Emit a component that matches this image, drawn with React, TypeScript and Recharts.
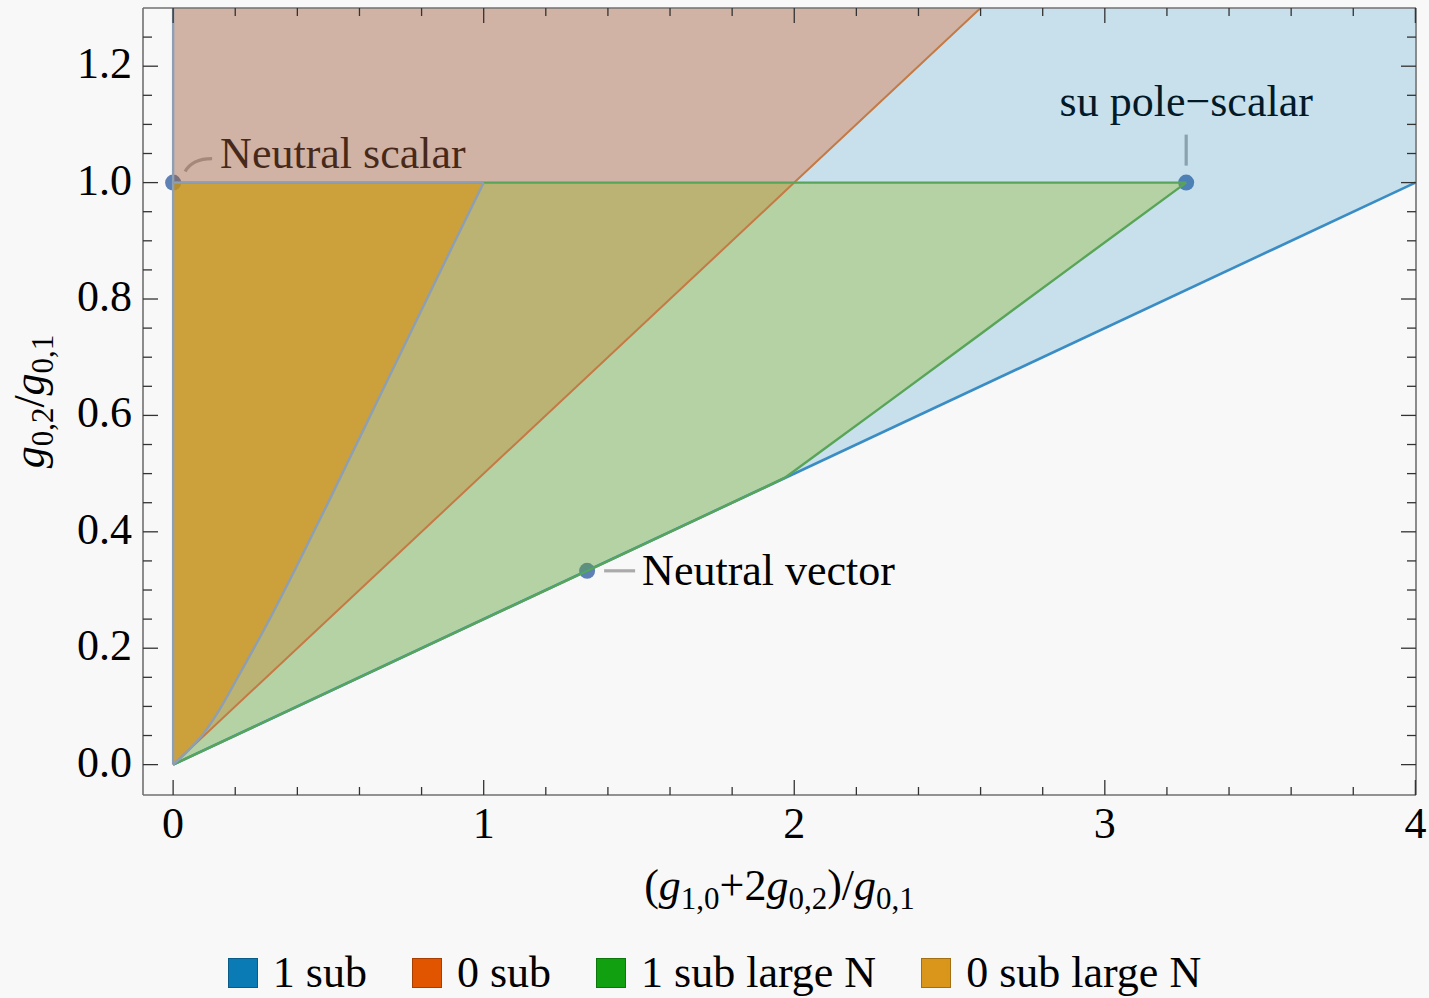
import React from 'react';
import { ComposedChart, Area, XAxis, YAxis, Scatter, Legend } from 'recharts';

const CHART_W = 1429;
const CHART_H = 998;
const FONT = '"Liberation Serif", "Times New Roman", serif';
const BG = '#f8f8f8';
const TICK_COLOR = '#333333';
const FRAME_COLOR = '#707070';

// ---- Region "1 sub" (lower and upper boundary at each vertex x)
const sub1X = [0, 4];
const sub1Low = [0, 1];
const sub1High = [1.3, 1.3];

// ---- Region "0 sub"
const sub0X = [0, 2, 2.6];
const sub0Low = [0, 1, 1.3];
const sub0High = [1.3, 1.3, 1.3];

// ---- Region "1 sub large N"
const sub1NX = [0, 1.333, 1.9, 1.97, 2.083, 2.277, 2.6, 2.92, 3.262];
const sub1NLow = [0, 0.333, 0.475, 0.493, 0.537, 0.613, 0.74, 0.866, 1.0];
const sub1NHigh = [1, 1, 1, 1, 1, 1, 1, 1, 1];

// ---- Region "0 sub large N"
const sub0NX = [0, 0.05, 0.1, 0.15, 0.2, 0.3, 0.4, 0.5, 0.6, 0.7, 0.8, 0.9, 1];
const sub0NLow = [0, 0.025, 0.055, 0.095, 0.142, 0.239, 0.343, 0.451, 0.561, 0.671, 0.781, 0.891, 1];
const sub0NHigh = [1, 1, 1, 1, 1, 1, 1, 1, 1, 1, 1, 1, 1];

// ---- Labelled points
const markerX = [0, 3.262, 1.333];
const markerY = [1, 1, 0.333];
const markerNames = ['Neutral scalar', 'su pole\u2212scalar', 'Neutral vector'];

// ---- Legend
const legendNames = ['1 sub', '0 sub', '1 sub large N', '0 sub large N'];
const legendColors = ['#0b7bb5', '#e15400', '#10a010', '#d9961a'];

// ---- Axes
const xDomain = [-0.097, 4.002];
const yDomain = [-0.0522, 1.3];
const xMajorTicks = [0, 1, 2, 3, 4];
const xAllTicks = [0, 0.2, 0.4, 0.6, 0.8, 1, 1.2, 1.4, 1.6, 1.8, 2, 2.2, 2.4, 2.6, 2.8, 3, 3.2, 3.4, 3.6, 3.8, 4];
const yMajorTicks = [0, 0.2, 0.4, 0.6, 0.8, 1, 1.2];
const yAllTicks = [0, 0.05, 0.1, 0.15, 0.2, 0.25, 0.3, 0.35, 0.4, 0.45, 0.5, 0.55, 0.6, 0.65, 0.7, 0.75, 0.8, 0.85, 0.9, 0.95, 1, 1.05, 1.1, 1.15, 1.2, 1.25];

// ---- Styles
const regionStyles: Record<string, { fill: string; opacity: number; edge: string; edgeWidth: number; curve: string }> = {
  sub1: { fill: 'rgb(8,128,188)', opacity: 0.2, edge: '#3a8cc5', edgeWidth: 2.6, curve: 'linear' },
  sub0: { fill: 'rgb(230,77,0)', opacity: 0.3, edge: '#c47a45', edgeWidth: 2, curve: 'linear' },
  sub1N: { fill: 'rgb(139,180,0)', opacity: 0.3, edge: '#58a458', edgeWidth: 2.4, curve: 'linear' },
  sub0N: { fill: 'rgb(215,147,20)', opacity: 0.6, edge: '#8d9fb4', edgeWidth: 2.4, curve: 'monotoneX' },
};
const LEFT_EDGE_COLOR = '#8d9fb4';

const annotationStyles: Record<string, { leader: string; dx: number; dy: number; anchor: 'start' | 'middle' }> = {
  'Neutral scalar': { leader: 'M12,-11 Q19,-24 39,-24', dx: 47, dy: -15, anchor: 'start' },
  'su pole\u2212scalar': { leader: 'M0,-17 L0,-48', dx: 0, dy: -67, anchor: 'middle' },
  'Neutral vector': { leader: 'M17,0 L48,0', dx: 55, dy: 14, anchor: 'start' },
};

type Row = { x: number; [k: string]: any };

function buildRows(): Row[] {
  const rows: Row[] = [];
  const add = (key: string, xs: number[], lo: number[], hi: number[]) => {
    xs.forEach((x, i) => rows.push({ x, [key]: [lo[i], hi[i]] }));
  };
  add('sub1', sub1X, sub1Low, sub1High);
  add('sub0', sub0X, sub0Low, sub0High);
  add('sub1N', sub1NX, sub1NLow, sub1NHigh);
  add('sub0N', sub0NX, sub0NLow, sub0NHigh);
  rows.sort((a, b) => a.x - b.x);
  return rows;
}

const pts = (xs: number[], ys: number[]) => xs.map((x, i) => ({ x, y: ys[i] }));
const topEdge = (xs: number[], hi: number[]) => [
  { x: xs[0], y: hi[0] },
  { x: xs[xs.length - 1], y: hi[hi.length - 1] },
];

const chartRows = buildRows();
const markerData = markerX.map((x, i) => ({ x, y: markerY[i], name: markerNames[i] }));

const noShape = () => <g />;

const MarkerShape = (props: any) => {
  const { cx, cy, payload } = props;
  if (cx == null || cy == null) return <g />;
  const st = annotationStyles[payload.name];
  return (
    <g transform={`translate(${cx},${cy})`}>
      <circle cx={0} cy={0} r={8} fill="#5e81b5" />
      <path d={st.leader} stroke="#aaaaaa" strokeWidth={3.2} fill="none" />
      <text x={st.dx} y={st.dy} textAnchor={st.anchor} fontFamily={FONT} fontSize={44} fill="#000">
        {payload.name}
      </text>
    </g>
  );
};

const BottomTick = (props: any) => {
  const { x, y, payload } = props;
  const v = payload.value;
  const major = xMajorTicks.indexOf(v) >= 0;
  return (
    <g>
      <line x1={x} x2={x} y1={y} y2={y - (major ? 15 : 8)} stroke={TICK_COLOR} strokeWidth={1.3} />
      {major && (
        <text x={x} y={y + 43} textAnchor="middle" fontFamily={FONT} fontSize={44} fill="#000">
          {String(v)}
        </text>
      )}
    </g>
  );
};

const TopTick = (props: any) => {
  const { x, y, payload } = props;
  const major = xMajorTicks.indexOf(payload.value) >= 0;
  return <line x1={x} x2={x} y1={y} y2={y + (major ? 15 : 8)} stroke={TICK_COLOR} strokeWidth={1.3} />;
};

const LeftTick = (props: any) => {
  const { x, y, payload } = props;
  const v = payload.value;
  const major = yMajorTicks.indexOf(v) >= 0;
  return (
    <g>
      <line x1={x} x2={x + (major ? 15 : 9)} y1={y} y2={y} stroke={TICK_COLOR} strokeWidth={1.3} />
      {major && (
        <text x={x - 11} y={y + 12} textAnchor="end" fontFamily={FONT} fontSize={44} fill="#000">
          {v.toFixed(1)}
        </text>
      )}
    </g>
  );
};

const RightTick = (props: any) => {
  const { x, y, payload } = props;
  const major = yMajorTicks.indexOf(payload.value) >= 0;
  return <line x1={x} x2={x - (major ? 15 : 9)} y1={y} y2={y} stroke={TICK_COLOR} strokeWidth={1.3} />;
};

const SUB = 31;
const SUB_SHIFT = 9;

const XTitle = (props: any) => {
  const vb = props.viewBox || {};
  const cx = vb.x + vb.width / 2;
  const y = vb.y + 105;
  return (
    <text x={cx} y={y} textAnchor="middle" fontFamily={FONT} fontSize={44} fill="#000">
      <tspan>(</tspan>
      <tspan fontStyle="italic">g</tspan>
      <tspan fontSize={SUB} dy={SUB_SHIFT}>1,0</tspan>
      <tspan dy={-SUB_SHIFT}>+2</tspan>
      <tspan fontStyle="italic">g</tspan>
      <tspan fontSize={SUB} dy={SUB_SHIFT}>0,2</tspan>
      <tspan dy={-SUB_SHIFT}>)/</tspan>
      <tspan fontStyle="italic">g</tspan>
      <tspan fontSize={SUB} dy={SUB_SHIFT}>0,1</tspan>
    </text>
  );
};

const YTitle = (props: any) => {
  const vb = props.viewBox || {};
  const cx = 44;
  const cy = vb.y + vb.height / 2;
  return (
    <text
      transform={`translate(${cx},${cy}) rotate(-90)`}
      x={0}
      y={0}
      textAnchor="middle"
      fontFamily={FONT}
      fontSize={44}
      fill="#000"
    >
      <tspan fontStyle="italic">g</tspan>
      <tspan fontSize={SUB} dy={SUB_SHIFT}>0,2</tspan>
      <tspan dy={-SUB_SHIFT}>/</tspan>
      <tspan fontStyle="italic">g</tspan>
      <tspan fontSize={SUB} dy={SUB_SHIFT}>0,1</tspan>
    </text>
  );
};

const renderLegend = () => (
  <div
    style={{
      display: 'flex',
      justifyContent: 'center',
      alignItems: 'center',
      height: 44,
      fontFamily: FONT,
      fontSize: 44,
      lineHeight: '44px',
      color: '#000',
      whiteSpace: 'nowrap',
    }}
  >
    {legendNames.map((n, i) => (
      <div key={n} style={{ display: 'flex', alignItems: 'center', marginLeft: i ? 45 : 0 }}>
        <span
          style={{
            display: 'inline-block',
            width: 30,
            height: 30,
            background: legendColors[i],
            border: '1px solid rgba(0,0,0,0.25)',
            boxSizing: 'border-box',
            marginRight: 15,
          }}
        />
        <span>{n}</span>
      </div>
    ))}
  </div>
);

export default function App() {
  const areaKeys = ['sub1', 'sub0', 'sub1N', 'sub0N'];
  const edges: { key: string; data: { x: number; y: number }[]; color: string; width: number; curve: string }[] = [
    { key: 'e1', data: pts(sub1X, sub1Low), color: regionStyles.sub1.edge, width: regionStyles.sub1.edgeWidth, curve: 'linear' },
    {
      key: 'eL',
      data: [
        { x: sub1X[0], y: sub1Low[0] },
        { x: sub1X[0], y: sub1High[0] },
      ],
      color: LEFT_EDGE_COLOR,
      width: 2.4,
      curve: 'linear',
    },
    { key: 'e0', data: pts(sub0X, sub0Low), color: regionStyles.sub0.edge, width: regionStyles.sub0.edgeWidth, curve: 'linear' },
    { key: 'e1Nl', data: pts(sub1NX, sub1NLow), color: regionStyles.sub1N.edge, width: regionStyles.sub1N.edgeWidth, curve: regionStyles.sub1N.curve },
    { key: 'e1Nt', data: topEdge(sub1NX, sub1NHigh), color: regionStyles.sub1N.edge, width: regionStyles.sub1N.edgeWidth, curve: 'linear' },
    { key: 'e0Nl', data: pts(sub0NX, sub0NLow), color: regionStyles.sub0N.edge, width: regionStyles.sub0N.edgeWidth, curve: regionStyles.sub0N.curve },
    { key: 'e0Nt', data: topEdge(sub0NX, sub0NHigh), color: regionStyles.sub0N.edge, width: regionStyles.sub0N.edgeWidth, curve: 'linear' },
  ];
  return (
    <div style={{ position: 'absolute', left: 0, top: 0, width: CHART_W, height: CHART_H, background: BG }}>
      <ComposedChart
        width={CHART_W}
        height={CHART_H}
        data={chartRows}
        margin={{ top: 8, right: 13, bottom: 3, left: 0 }}
        style={{ fontFamily: FONT }}
      >
        <Scatter
          data={markerData}
          dataKey="y"
          shape={MarkerShape}
          isAnimationActive={false}
          legendType="none"
          zIndex={50}
        />
        {areaKeys.map((k) => (
          <Area
            key={k}
            type={regionStyles[k].curve as any}
            dataKey={k}
            stroke="none"
            fill={regionStyles[k].fill}
            fillOpacity={regionStyles[k].opacity}
            connectNulls
            dot={false}
            activeDot={false}
            isAnimationActive={false}
            legendType="none"
            zIndex={100}
          />
        ))}
        {edges.map((e) => (
          <Scatter
            key={e.key}
            data={e.data}
            dataKey="y"
            line={{ stroke: e.color, strokeWidth: e.width }}
            lineType="joint"
            lineJointType={e.curve as any}
            shape={noShape}
            isAnimationActive={false}
            legendType="none"
            zIndex={150}
          />
        ))}
        <XAxis
          dataKey="x"
          type="number"
          domain={xDomain}
          allowDataOverflow
          ticks={xAllTicks}
          interval={0}
          height={156}
          tickSize={0}
          tickMargin={0}
          tickLine={false}
          tick={<BottomTick />}
          axisLine={{ stroke: FRAME_COLOR, strokeWidth: 1.6 }}
          label={{ content: <XTitle /> }}
        />
        <XAxis
          xAxisId="top"
          dataKey="x"
          orientation="top"
          type="number"
          domain={xDomain}
          allowDataOverflow
          ticks={xAllTicks}
          interval={0}
          mirror
          height={1}
          tickSize={0}
          tickMargin={0}
          tickLine={false}
          tick={<TopTick />}
          axisLine={{ stroke: FRAME_COLOR, strokeWidth: 1.6 }}
        />
        <YAxis
          type="number"
          domain={yDomain}
          allowDataOverflow
          ticks={yAllTicks}
          interval={0}
          width={143}
          tickSize={0}
          tickMargin={0}
          tickLine={false}
          tick={<LeftTick />}
          axisLine={{ stroke: FRAME_COLOR, strokeWidth: 1.6 }}
          label={{ content: <YTitle /> }}
        />
        <YAxis
          yAxisId="right"
          orientation="right"
          type="number"
          domain={yDomain}
          allowDataOverflow
          ticks={yAllTicks}
          interval={0}
          mirror
          width={1}
          tickSize={0}
          tickMargin={0}
          tickLine={false}
          tick={<RightTick />}
          axisLine={{ stroke: FRAME_COLOR, strokeWidth: 1.6 }}
        />
        <Legend
          verticalAlign="bottom"
          content={renderLegend}
          wrapperStyle={{ left: 0, width: CHART_W }}
        />
      </ComposedChart>
    </div>
  );
}
